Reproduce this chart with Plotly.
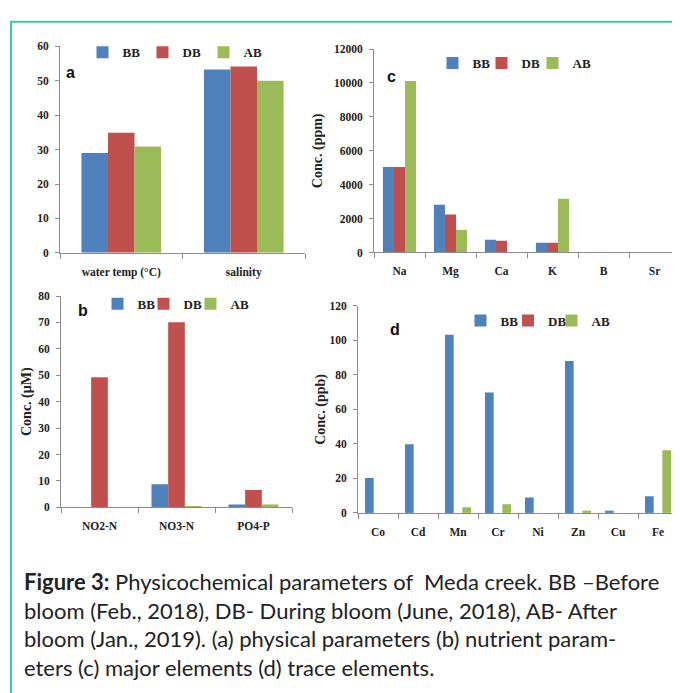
import plotly.graph_objects as go

series_names = ["BB", "DB", "AB"]
series_colors = ["#4F81BD", "#C0504D", "#9BBB59"]

a_categories = ["water temp (°C)", "salinity"]
a_BB = [29.0, 53.3]
a_DB = [34.9, 54.2]
a_AB = [30.9, 50.0]

b_categories = ["NO2-N", "NO3-N", "PO4-P"]
b_BB = [0.0, 8.7, 1.1]
b_DB = [49.2, 70.1, 6.6]
b_AB = [0.0, 0.4, 1.1]

c_categories = ["Na", "Mg", "Ca", "K", "B", "Sr"]
c_BB = [5050, 2820, 750, 580, 0, 0]
c_DB = [5050, 2240, 700, 580, 0, 0]
c_AB = [10120, 1330, 0, 3170, 0, 0]

d_categories = ["Co", "Cd", "Mn", "Cr", "Ni", "Zn", "Cu", "Fe"]
d_BB = [20.2, 39.8, 103.2, 69.8, 9.0, 88.0, 1.3, 9.6]
d_DB = [0, 0, 0, 0, 0, 0, 0, 0]
d_AB = [0, 0, 3.3, 5.0, 0, 1.3, 0, 36.3]

caption = ("<b>Figure 3:</b> Physicochemical parameters of  Meda creek. BB \u2013Before<br>"
           "bloom (Feb., 2018), DB- During bloom (June, 2018), AB- After<br>"
           "bloom (Jan., 2019). (a) physical parameters (b) nutrient param-<br>"
           "eters (c) major elements (d) trace elements.")

W, H = 680, 693
OFF = 8  # page body offset


def px(x):
    return (x - OFF) / W


def py(y):
    return 1 - (y - OFF) / H


# legend entry centres (screen px) for each panel, and row y
legend_pos = {
    "a": ([119.5, 179.5, 240.5], 47),
    "c": ([469.5, 518.5, 569.5], 58),
    "b": ([134.5, 180.5, 227.5], 303),
    "d": ([497.5, 545.0, 588.5], 320),
}

panels = [
    ("a", a_categories, [a_BB, a_DB, a_AB], "x", "y"),
    ("c", c_categories, [c_BB, c_DB, c_AB], "x2", "y2"),
    ("b", b_categories, [b_BB, b_DB, b_AB], "x3", "y3"),
    ("d", d_categories, [d_BB, d_DB, d_AB], "x4", "y4"),
]

serif = "Liberation Serif"
tickfont = dict(family=serif, size=11.5, color="#222", weight="bold")
catfont = dict(family=serif, size=11.5, color="#222", weight="bold")
titlefont = dict(family=serif, size=14, color="#222", weight="bold")
legfont = dict(family=serif, size=13, color="#222", weight="bold")

fig = go.Figure()
legends = {}
n = 0
for key, cats, data, xa, ya in panels:
    centres, ly = legend_pos[key]
    for name, col, vals, cx in zip(series_names, series_colors, data, centres):
        n += 1
        lid = "legend" if n == 1 else f"legend{n}"
        fig.add_trace(go.Bar(x=cats, y=vals, name=name, marker_color=col,
                             marker_line_width=0, xaxis=xa, yaxis=ya,
                             legend=lid, showlegend=True))
        legends[lid] = dict(x=px(cx - 37), y=py(ly), xanchor="left", yanchor="middle",
                            orientation="h", font=legfont, itemwidth=30,
                            bgcolor="rgba(0,0,0,0)", tracegroupgap=0,
                            itemclick=False, itemdoubleclick=False)


def xaxis(domain, anchor):
    return dict(domain=domain, anchor=anchor, type="category", showline=True,
                linecolor="#8c8c8c", linewidth=1, ticks="outside", ticklen=5,
                tickcolor="#8c8c8c", tickson="boundaries", showgrid=False,
                tickfont=catfont, ticklabelstandoff=8, fixedrange=True)


def yaxis(domain, anchor, rng, dtick, title=None, standoff=8):
    d = dict(domain=domain, anchor=anchor, range=rng, dtick=dtick, tick0=0,
             showline=True, linecolor="#8c8c8c", linewidth=1, ticks="outside",
             ticklen=4, tickcolor="#8c8c8c", showgrid=False, zeroline=False,
             tickfont=tickfont, tickformat="d", ticklabelstandoff=4, fixedrange=True)
    if title:
        d["title"] = dict(text=title, font=titlefont, standoff=standoff)
    return d


dom_a_x = [px(60), px(305)]; dom_a_y = [py(251), py(41)]
dom_c_x = [px(374), px(680)]; dom_c_y = [py(250.7), py(43.7)]
dom_b_x = [px(61), px(292)]; dom_b_y = [py(510), py(295)]
dom_d_x = [px(358), px(678)]; dom_d_y = [py(515.7), py(305)]

fig.update_layout(
    width=W, height=H,
    margin=dict(l=0, r=0, t=0, b=0),
    paper_bgcolor="white", plot_bgcolor="white",
    barmode="group", bargap=0.35, bargroupgap=0,
    xaxis=xaxis(dom_a_x, "y"),
    yaxis=yaxis(dom_a_y, "x", [0, 60], 10),
    xaxis2=xaxis(dom_c_x, "y2"),
    yaxis2=yaxis(dom_c_y, "x2", [0, 12000], 2000, "Conc. (ppm)", 8),
    xaxis3=xaxis(dom_b_x, "y3"),
    yaxis3=yaxis(dom_b_y, "x3", [0, 80], 10, "Conc. (\u00b5M)", 3),
    xaxis4=xaxis(dom_d_x, "y4"),
    yaxis4=yaxis(dom_d_y, "x4", [0, 120], 20, "Conc. (ppb)", 0),
    showlegend=True,
    **legends,
)

for letter, x, y in [("a", 70, 68), ("c", 391, 72), ("b", 83, 310), ("d", 395, 329)]:
    fig.add_annotation(text=f"<b>{letter}</b>", x=px(x), y=py(y), xref="paper", yref="paper",
                       xanchor="center", yanchor="middle", showarrow=False,
                       font=dict(family="Liberation Sans", size=16, color="#111"))

fig.add_annotation(text=caption, x=px(22), y=py(570), xref="paper", yref="paper",
                   xanchor="left", yanchor="top", align="left", showarrow=False,
                   font=dict(family="Lato", size=22, color="#222"))

fig.add_shape(type="rect", xref="paper", yref="paper",
              x0=px(11), x1=px(720), y0=py(740), y1=py(16),
              line=dict(color="#3cc8a8", width=2), fillcolor="rgba(0,0,0,0)")

fig.write_html("out.html")
